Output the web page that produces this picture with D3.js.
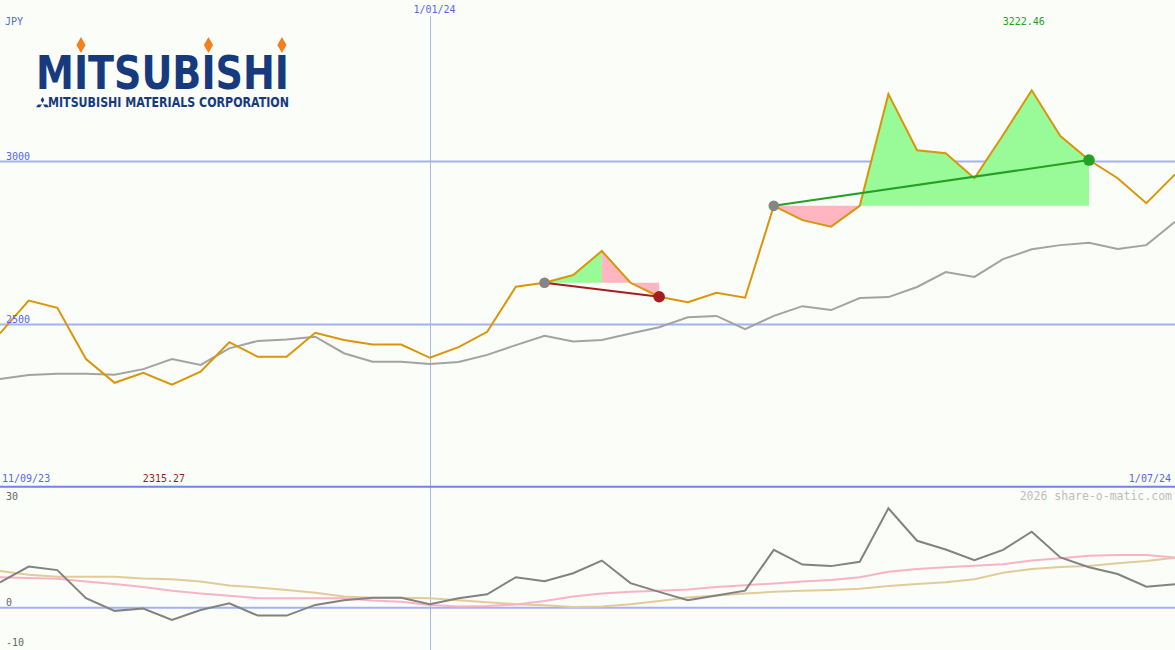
<!DOCTYPE html>
<html><head><meta charset="utf-8">
<script src="https://cdn.jsdelivr.net/npm/d3@7"></script>
<style>html,body{margin:0;padding:0;background:#fbfdf9;}svg{display:block;}</style>
</head><body>
<svg id="chart" width="1175" height="650"></svg>
<script>
// ---------------- DATA ----------------
const dates = ["18/09/23","25/09/23","2/10/23","9/10/23","16/10/23","23/10/23","30/10/23","6/11/23","13/11/23","20/11/23","27/11/23","4/12/23","11/12/23","18/12/23","25/12/23","1/01/24","8/01/24","15/01/24","22/01/24","29/01/24","5/02/24","12/02/24","19/02/24","26/02/24","4/03/24","11/03/24","18/03/24","25/03/24","1/04/24","8/04/24","15/04/24","22/04/24","29/04/24","6/05/24","13/05/24","20/05/24","27/05/24","3/06/24","10/06/24","17/06/24","24/06/24","1/07/24"];
const closePrice = [2473,2574,2552,2394,2321,2352,2315,2355,2446,2401,2401,2475,2453,2439,2439,2398,2431,2478,2617,2629,2653,2727,2629,2586,2569,2598,2583,2866,2822,2802,2866,3210,3037,3028,2951,3084,3222,3081,3007,2951,2874,2963];
const movingAvg = [2333,2345,2349,2349,2346,2363,2394,2376,2427,2450,2454,2463,2412,2386,2386,2379,2385,2407,2437,2466,2448,2453,2473,2492,2523,2527,2486,2527,2557,2545,2582,2585,2616,2662,2647,2702,2732,2745,2752,2733,2745,2817];
const momentum = [6.4,10.4,9.5,2.4,-0.8,-0.2,-3.1,-0.6,1.1,-2.0,-2.0,0.7,1.9,2.5,2.5,0.9,2.4,3.4,7.7,6.7,8.7,11.9,6.2,4.0,1.9,3.1,4.3,14.6,10.9,10.5,11.6,25.1,16.9,14.7,12.0,14.6,19.2,12.7,10.2,8.5,5.3,5.9];
const slowAvg = [9.3,8.3,7.8,7.8,7.8,7.4,7.2,6.6,5.6,5.1,4.5,3.8,2.8,2.5,2.5,2.4,1.9,1.4,0.9,0.6,0.2,0.3,0.9,1.7,2.6,3.1,3.6,4.0,4.3,4.5,4.8,5.5,6.0,6.4,7.2,8.8,9.8,10.3,10.5,11.2,11.8,12.6];
const fastAvg = [7.7,7.5,7.3,6.6,6.0,5.2,4.3,3.6,3.0,2.4,2.4,2.4,2.4,1.8,1.5,0.7,0.3,0.4,0.8,1.7,2.8,3.6,4.0,4.3,4.6,5.2,5.7,6.1,6.6,7.0,7.7,9.1,9.8,10.2,10.6,11.0,11.9,12.5,13.1,13.3,13.3,12.7];
const priceTicks = [3000, 2500];
const priceTickLabels = ["3000", "2500"];
const momTicks = [30, 0, -10];
const momTickLabels = ["30", "0", "-10"];
const markerDate = "1/01/24";
const rangeStartLabel = "11/09/23";
const rangeEndLabel = "1/07/24";
const currency = "JPY";
const maxLabel = "3222.46";
const minLabel = "2315.27";
const trades = [
  {start: 19, end: 23, win: false},
  {start: 27, end: 38, win: true}
];
const fillSegments = [
  {trade: 0, from: 19, to: 21, kind: "gain"},
  {trade: 0, from: 21, to: 23, kind: "loss"},
  {trade: 1, from: 27, to: 30, kind: "loss"},
  {trade: 1, from: 30, to: 38, kind: "gain"}
];
const watermark = "2026 share-o-matic.com";

// ---------------- CHART ----------------
const W = 1175, H = 650;
const svg = d3.select("#chart");
const idx = d3.range(dates.length);
const x = d3.scaleLinear().domain([0, dates.length - 1]).range([0, W]);
const y = d3.scaleLinear().domain([2000, 3500]).range([487, 0]);
const y2 = d3.scaleLinear().domain([-10, 30]).range([647.3, 488.9]);
const mono = '"DejaVu Sans Mono", "Liberation Mono", monospace';
const blueTxt = "#5566ee";

svg.append("rect").attr("width", W).attr("height", H).attr("fill", "#fbfdf9");

// grid lines main panel
svg.selectAll(".pgrid").data(priceTicks).enter().append("line")
  .attr("x1", 0).attr("x2", W)
  .attr("y1", d => Math.round(y(d)) - 0.5).attr("y2", d => Math.round(y(d)) - 0.5)
  .attr("stroke", "#a4b2f0").attr("stroke-width", 2);
// zero line bottom panel
svg.append("line").attr("x1", 0).attr("x2", W)
  .attr("y1", y2(0)).attr("y2", y2(0))
  .attr("stroke", "#a4b2f0").attr("stroke-width", 2);
// vertical date marker
const xm = Math.round(x(dates.indexOf(markerDate))) + 0.5;
svg.append("line").attr("x1", xm).attr("x2", xm).attr("y1", 16).attr("y2", H)
  .attr("stroke", "#aab4e6").attr("stroke-width", 1);
// panel separator
svg.append("line").attr("x1", 0).attr("x2", W).attr("y1", 486.7).attr("y2", 486.7)
  .attr("stroke", "#7282ea").attr("stroke-width", 2);

// trade fills
fillSegments.forEach(s => {
  const base = closePrice[trades[s.trade].start];
  const pts = d3.range(s.from, s.to + 1);
  const area = d3.area().x(i => x(i)).y0(y(base)).y1(i => y(closePrice[i]));
  svg.append("path").datum(pts).attr("d", area)
    .attr("fill", s.kind === "gain" ? "#98fb98" : "#ffb6c1");
});

// moving average line
const lineGen = arr => d3.line().x(i => x(i)).y(i => y(arr[i]));
svg.append("path").datum(idx).attr("d", lineGen(movingAvg))
  .attr("fill", "none").attr("stroke", "#a3a3a3").attr("stroke-width", 2);
// price line
svg.append("path").datum(idx).attr("d", lineGen(closePrice))
  .attr("fill", "none").attr("stroke", "#db9508").attr("stroke-width", 2);

// trade lines + markers
trades.forEach(t => {
  const col = t.win ? "#24a024" : "#a51d1d";
  svg.append("line")
    .attr("x1", x(t.start)).attr("y1", y(closePrice[t.start]))
    .attr("x2", x(t.end)).attr("y2", y(closePrice[t.end]))
    .attr("stroke", col).attr("stroke-width", 2);
  svg.append("circle").attr("cx", x(t.start)).attr("cy", y(closePrice[t.start])).attr("r", 5.3).attr("fill", "#858585");
  svg.append("circle").attr("cx", x(t.end)).attr("cy", y(closePrice[t.end])).attr("r", 5.8).attr("fill", col);
});

// bottom panel lines
const line2 = arr => d3.line().x(i => x(i)).y(i => y2(arr[i]));
svg.append("path").datum(idx).attr("d", line2(slowAvg))
  .attr("fill", "none").attr("stroke", "#e3cb98").attr("stroke-width", 2);
svg.append("path").datum(idx).attr("d", line2(fastAvg))
  .attr("fill", "none").attr("stroke", "#f9b3c6").attr("stroke-width", 2);
svg.append("path").datum(idx).attr("d", line2(momentum))
  .attr("fill", "none").attr("stroke", "#828282").attr("stroke-width", 2);

// texts
function txt(s, xx, yy, col, anchor, size) {
  return svg.append("text").attr("x", xx).attr("y", yy).attr("fill", col)
    .attr("font-family", mono).attr("font-size", size || 10)
    .attr("text-anchor", anchor || "start").text(s);
}
txt(currency, 5, 25, blueTxt);
txt(markerDate, xm + 4, 13, blueTxt, "middle");
priceTicks.forEach((d, i) => txt(priceTickLabels[i], 6, Math.round(y(d)) - 2, blueTxt));
txt(rangeStartLabel, 2, 482, blueTxt);
txt(rangeEndLabel, 1171, 482, blueTxt, "end");
const iMax = closePrice.indexOf(d3.max(closePrice));
const iMin = closePrice.indexOf(d3.min(closePrice));
txt(maxLabel, x(iMax) - 8, 25, "#22a022", "middle");
txt(minLabel, x(iMin) - 8, 482, "#a01e1e", "middle");
const momLabelY = {"30": 500, "0": 606, "-10": 646};
momTicks.forEach((d, i) => txt(momTickLabels[i], 6, momLabelY[momTickLabels[i]], "#666666"));
txt(watermark, 1172, 500, "#bdbdbd", "end", 11.5);

// logo
const navy = "#173a7e";
const big = svg.append("text").attr("x", 36).attr("y", 89)
  .attr("font-family", '"Liberation Sans Narrow","DejaVu Sans Condensed","Liberation Sans",sans-serif')
  .attr("font-weight", "bold").attr("font-size", 47)
  .attr("textLength", 253).attr("lengthAdjust", "spacingAndGlyphs")
  .attr("fill", navy).text("MITSUBISHI");
const diamondX = [];
"MITSUBISHI".split("").forEach((c, i) => {
  if (c === "I") {
    try {
      const e = big.node().getExtentOfChar(i);
      diamondX.push(e.x + e.width / 2);
    } catch (err) {}
  }
});
if (diamondX.length !== 3) { diamondX.length = 0; diamondX.push(79, 208, 284); }
diamondX.forEach(cx => {
  svg.append("path")
    .attr("d", `M${cx},37 L${cx + 4.6},45 L${cx},53 L${cx - 4.6},45 Z`)
    .attr("fill", "#f2801e");
});
svg.append("text").attr("x", 48).attr("y", 107)
  .attr("font-family", '"Liberation Sans Narrow","DejaVu Sans Condensed","Liberation Sans",sans-serif')
  .attr("font-weight", "bold").attr("font-size", 13.5)
  .attr("textLength", 241).attr("lengthAdjust", "spacingAndGlyphs")
  .attr("fill", navy).text("MITSUBISHI MATERIALS CORPORATION");
// three-diamond mark
[[42.5, 97.5, 0], [39, 103.2, 1], [46, 103.2, 2]].forEach(([cx, cy, k]) => {
  let d;
  if (k === 0) d = `M${cx},${cy - 0.5} L${cx + 1.8},${cy + 2.5} L${cx},${cy + 5.5} L${cx - 1.8},${cy + 2.5} Z`;
  else if (k === 1) d = `M${cx + 3},${cy + 1.2} L${cx + 1},${cy + 4} L${cx - 3},${cy + 4} L${cx - 1},${cy + 1.2} Z`;
  else d = `M${cx - 3},${cy + 1.2} L${cx - 1},${cy + 4} L${cx + 3},${cy + 4} L${cx + 1},${cy + 1.2} Z`;
  svg.append("path").attr("d", d).attr("fill", navy);
});
</script>
</body></html>
